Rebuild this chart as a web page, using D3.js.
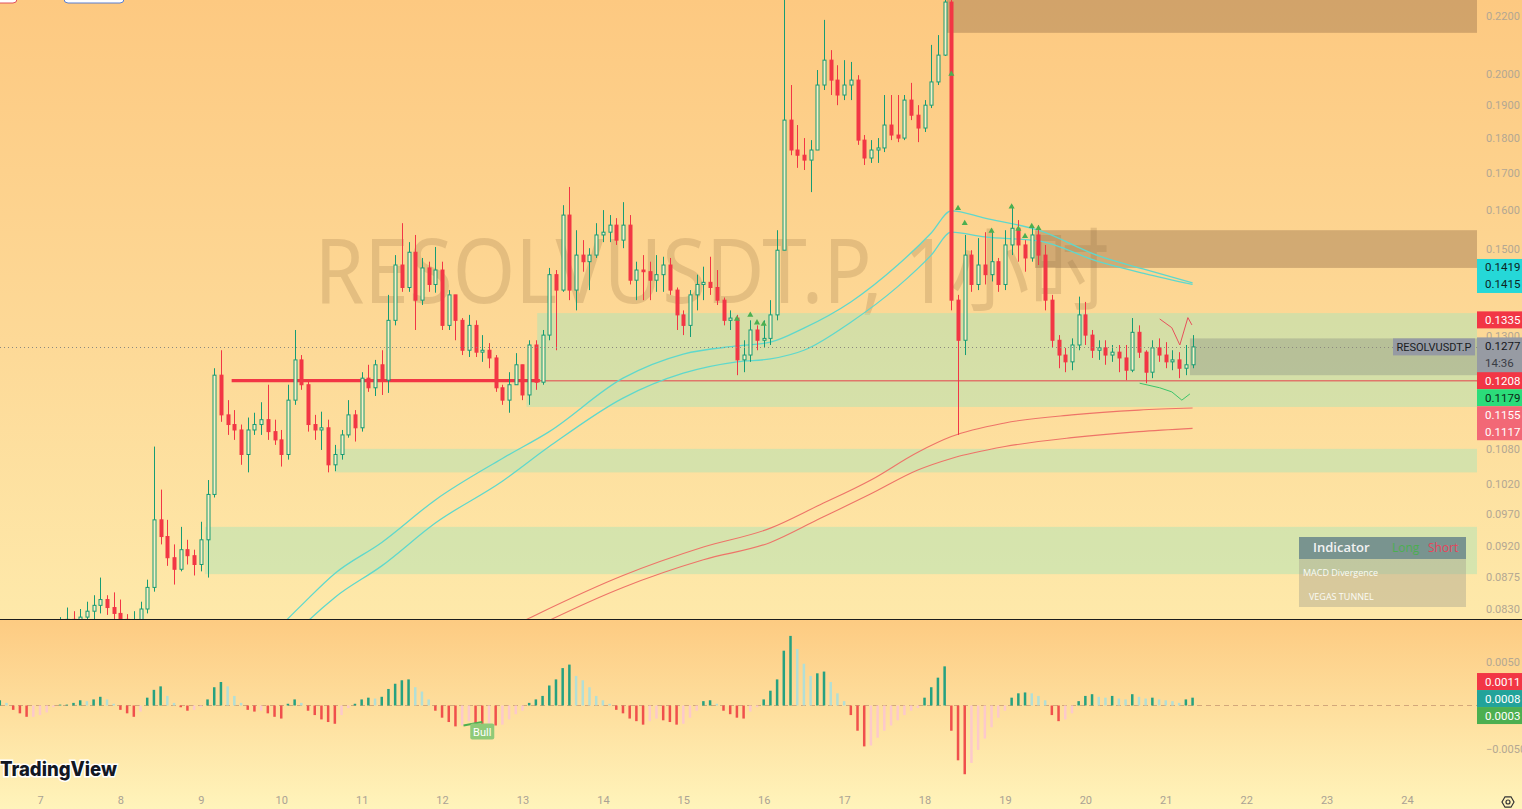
<!DOCTYPE html>
<html><head><meta charset="utf-8">
<script src="https://cdn.jsdelivr.net/npm/d3@7"></script>
<style>html,body{margin:0;padding:0;overflow:hidden;background:#fff3b8}svg{display:block}</style>
</head><body><svg id="c" width="1522" height="809"></svg>
<script>
// ---------------- DATA ----------------
const symbol = "RESOLVUSDT.P";
const watermarkText = "RESOLVUSDT.P, 1小时";
const startTime = Date.UTC(2025, 5, 6, 12);   // first bar
const barHours = 2;
const firstOpen = 0.0795;
const closes = [
0.0790,0.0795,0.0787,0.0793,0.0799,0.0790,0.0785,0.0795,0.0803,0.0808,
0.0816,0.0811,0.0819,0.0827,0.0835,0.0843,0.0832,0.0824,0.0816,0.0808,
0.0814,0.0830,0.0860,0.0961,0.0935,0.0903,0.0886,0.0915,0.0906,0.0893,
0.0930,0.1002,0.1219,0.1142,0.1124,0.1114,0.1070,0.1114,0.1124,0.1133,
0.1111,0.1096,0.1070,0.1170,0.1250,0.1200,0.1124,0.1114,0.1118,0.1052,
0.1070,0.1105,0.1142,0.1118,0.1213,0.1194,0.1240,0.1209,0.1334,0.1461,
0.1408,0.1492,0.1379,0.1454,0.1415,0.1449,0.1323,0.1391,0.1334,0.1270,
0.1323,0.1266,0.1270,0.1254,0.1194,0.1170,0.1200,0.1240,0.1180,0.1281,
0.1205,0.1302,0.1438,0.1402,0.1586,0.1402,0.1485,0.1469,0.1485,0.1535,
0.1542,0.1560,0.1522,0.1560,0.1425,0.1449,0.1445,0.1425,0.1438,0.1461,
0.1402,0.1346,0.1323,0.1391,0.1415,0.1420,0.1408,0.1379,0.1334,0.1339,
0.1250,0.1260,0.1313,0.1291,0.1295,0.1346,0.1497,0.1854,0.1765,0.1750,
0.1736,0.1765,0.1964,0.2046,0.1980,0.1932,0.1964,0.1980,0.1794,0.1742,
0.1765,0.1771,0.1839,0.1809,0.1800,0.1916,0.1869,0.1830,0.1900,0.1974,
0.2063,0.2251,0.1379,0.1291,0.1485,0.1415,0.1461,0.1438,0.1469,0.1415,
0.1510,0.1552,0.1510,0.1478,0.1535,0.1485,0.1379,0.1291,0.1260,0.1246,
0.1281,0.1346,0.1302,0.1270,0.1275,0.1260,0.1266,0.1254,0.1229,0.1308,
0.1266,0.1225,0.1275,0.1260,0.1246,0.1250,0.1233,0.1240,0.1277];
const highs = [
0.0800,0.0806,0.0803,0.0803,0.0810,0.0803,0.0797,0.0806,0.0814,0.0819,
0.0832,0.0827,0.0830,0.0840,0.0849,0.0874,0.0849,0.0853,0.0843,0.0823,
0.0827,0.0840,0.0871,0.1084,0.1010,0.0961,0.0923,0.0950,0.0930,0.0915,
0.0958,0.1026,0.1233,0.1270,0.1170,0.1151,0.1124,0.1137,0.1146,0.1166,
0.1200,0.1133,0.1114,0.1200,0.1313,0.1260,0.1209,0.1142,0.1148,0.1133,
0.1087,0.1114,0.1170,0.1151,0.1225,0.1240,0.1250,0.1270,0.1391,0.1485,
0.1565,0.1517,0.1535,0.1478,0.1469,0.1505,0.1469,0.1402,0.1379,0.1339,
0.1346,0.1334,0.1302,0.1285,0.1260,0.1200,0.1225,0.1264,0.1240,0.1291,
0.1291,0.1313,0.1454,0.1449,0.1612,0.1661,0.1547,0.1522,0.1502,0.1565,
0.1599,0.1586,0.1578,0.1620,0.1586,0.1469,0.1485,0.1469,0.1485,0.1481,
0.1478,0.1408,0.1356,0.1402,0.1438,0.1457,0.1481,0.1449,0.1385,0.1356,
0.1346,0.1291,0.1334,0.1323,0.1334,0.1379,0.1547,0.2290,0.1964,0.1839,
0.1800,0.1794,0.2013,0.2186,0.2080,0.2029,0.2046,0.2040,0.1996,0.1809,
0.1794,0.1800,0.1932,0.1932,0.1932,0.1932,0.1971,0.1900,0.1916,0.2098,
0.2132,0.2316,0.2296,0.1391,0.1535,0.1497,0.1527,0.1542,0.1542,0.1478,
0.1547,0.1612,0.1573,0.1522,0.1552,0.1560,0.1510,0.1391,0.1302,0.1275,
0.1295,0.1387,0.1375,0.1313,0.1291,0.1291,0.1281,0.1281,0.1281,0.1339,
0.1323,0.1270,0.1291,0.1295,0.1287,0.1270,0.1266,0.1281,0.1302];
const lows = [
0.0780,0.0784,0.0777,0.0782,0.0787,0.0782,0.0775,0.0780,0.0790,0.0795,
0.0803,0.0800,0.0806,0.0811,0.0816,0.0824,0.0822,0.0814,0.0806,0.0798,
0.0800,0.0808,0.0824,0.0854,0.0923,0.0891,0.0864,0.0883,0.0893,0.0877,
0.0883,0.0874,0.0997,0.1129,0.1105,0.1096,0.1052,0.1039,0.1105,0.1105,
0.1096,0.1087,0.1049,0.1061,0.1161,0.1190,0.1111,0.1096,0.1078,0.1039,
0.1041,0.1061,0.1100,0.1093,0.1111,0.1186,0.1178,0.1180,0.1184,0.1323,
0.1398,0.1398,0.1313,0.1368,0.1398,0.1396,0.1313,0.1313,0.1291,0.1260,
0.1256,0.1256,0.1246,0.1233,0.1186,0.1161,0.1146,0.1209,0.1170,0.1161,
0.1190,0.1200,0.1291,0.1270,0.1398,0.1379,0.1356,0.1445,0.1402,0.1478,
0.1517,0.1517,0.1510,0.1502,0.1415,0.1379,0.1379,0.1379,0.1398,0.1398,
0.1391,0.1313,0.1302,0.1298,0.1356,0.1379,0.1391,0.1368,0.1323,0.1313,
0.1219,0.1225,0.1246,0.1270,0.1275,0.1281,0.1334,0.1497,0.1750,0.1714,
0.1708,0.1647,0.1765,0.1948,0.1932,0.1900,0.1916,0.1916,0.1780,0.1722,
0.1728,0.1728,0.1759,0.1794,0.1788,0.1794,0.1854,0.1788,0.1818,0.1891,
0.1964,0.2060,0.1356,0.1105,0.1260,0.1398,0.1402,0.1415,0.1422,0.1398,
0.1402,0.1485,0.1469,0.1445,0.1469,0.1461,0.1356,0.1275,0.1233,0.1225,
0.1229,0.1270,0.1281,0.1254,0.1250,0.1240,0.1246,0.1225,0.1209,0.1225,
0.1254,0.1203,0.1213,0.1246,0.1233,0.1229,0.1213,0.1219,0.1233];
const macdHist = [
0.0006,0.0003,-0.0005,-0.0009,-0.0013,-0.0013,-0.0011,-0.0008,-0.0002,0.0001,
0.0001,0.0003,0.0006,0.0005,0.0007,0.0010,0.0007,0.0002,-0.0005,-0.0009,
-0.0013,-0.0007,0.0009,0.0018,0.0022,0.0011,0.0003,-0.0002,-0.0006,-0.0005,
-0.0002,0.0007,0.0021,0.0027,0.0022,0.0011,0.0003,-0.0005,-0.0007,-0.0006,
-0.0009,-0.0013,-0.0015,0.0002,0.0007,0.0003,-0.0006,-0.0011,-0.0016,-0.0019,
-0.0021,-0.0011,-0.0003,0.0002,0.0007,0.0009,0.0008,0.0010,0.0019,0.0025,
0.0029,0.0030,0.0021,0.0016,0.0007,-0.0006,-0.0014,-0.0019,-0.0024,-0.0023,
-0.0018,-0.0022,-0.0023,-0.0021,-0.0023,-0.0022,-0.0016,-0.0010,-0.0006,0.0003,
0.0007,0.0011,0.0023,0.0030,0.0043,0.0047,0.0034,0.0029,0.0021,0.0011,
0.0006,0.0002,-0.0005,-0.0009,-0.0015,-0.0018,-0.0022,-0.0018,-0.0015,-0.0017,
-0.0019,-0.0022,-0.0021,-0.0014,-0.0006,0.0005,0.0006,0.0002,-0.0006,-0.0010,
-0.0014,-0.0015,-0.0007,-0.0002,0.0007,0.0017,0.0030,0.0063,0.0080,0.0065,
0.0048,0.0034,0.0037,0.0039,0.0027,0.0014,0.0005,-0.0011,-0.0029,-0.0047,
-0.0046,-0.0037,-0.0029,-0.0023,-0.0017,-0.0011,-0.0006,-0.0003,0.0009,0.0021,
0.0032,0.0045,-0.0029,-0.0063,-0.0079,-0.0066,-0.0051,-0.0038,-0.0025,-0.0014,
-0.0006,0.0009,0.0014,0.0015,0.0014,0.0011,0.0006,-0.0011,-0.0018,-0.0016,
-0.0009,0.0005,0.0011,0.0013,0.0010,0.0009,0.0011,0.0008,0.0007,0.0013,
0.0010,0.0008,0.0009,0.0007,0.0006,0.0005,0.0003,0.0007,0.0009];

// Vegas tunnel readings (bar index, price)
const cyanIdx   = [40,45,50,57,65,75,82,93,102,110,115,120,127,134,139,142,147,155,164,171,178];
const cyanUpper = [0.0790,0.0835,0.0880,0.0926,0.0993,0.1063,0.1111,0.1213,0.1262,0.1279,0.1287,0.1317,0.1375,0.1461,0.1540,0.1597,0.1578,0.1547,0.1483,0.1450,0.1419];
const cyanLower = [0.0757,0.0805,0.0846,0.0891,0.0956,0.1024,0.1084,0.1174,0.1223,0.1246,0.1252,0.1270,0.1330,0.1410,0.1485,0.1542,0.1530,0.1520,0.1469,0.1440,0.1415];
const redIdx    = [75,80,93,105,115,122,130,137,142,150,160,170,178];
const redUpper  = [0.0800,0.0822,0.0877,0.0919,0.0948,0.0983,0.1026,0.1074,0.1102,0.1127,0.1142,0.1151,0.1155];
const redLower  = [0.0784,0.0806,0.0860,0.0900,0.0926,0.0961,0.1003,0.1043,0.1063,0.1084,0.1100,0.1111,0.1117];

// signal markers (bar index, price)
const markerIdx   = [110,112,113,114,142,143,144,148,151,152,153,154,155];
const markerPrice = [0.1337,0.1346,0.1329,0.1326,0.2000,0.1604,0.1565,0.1545,0.1608,0.1550,0.1532,0.1557,0.1552];

// projection lines at the end
const projRedIdx = [173.1,174.9,176.1,177.3,177.9];
const projRedPrice = [0.1337,0.1318,0.1281,0.1340,0.1324];
const projGreenIdx = [170.1,173.1,174.9,176.4,177.6];
const projGreenPrice = [0.1203,0.1194,0.1186,0.1170,0.1182];

// zones: start bar index, top price, bottom price
const brownZoneStart = [141.3, 154.5];
const brownZoneTop   = [0.2400, 0.1547];
const brownZoneBot   = [0.2140, 0.1454];
const greenZoneStart = [80.2, 78.6, 50, 30.6];
const greenZoneTop   = [0.1350, 0.1208, 0.1080, 0.0950];
const greenZoneBot   = [0.1208, 0.1157, 0.1039, 0.0879];
const grayZoneStart = 177.6, grayZoneTop = 0.1295, grayZoneBot = 0.1219;

const levelPrice = 0.1208, levelStart = 34.6, levelThickEnd = 80.6;

const dayTicks = [7,8,9,10,11,12,13,14,15,16,17,18,19,20,21,22,23,24];
const priceTicks = [0.2200,0.2000,0.1900,0.1800,0.1700,0.1600,0.1500,0.1300,0.1080,0.1020,0.0970,0.0920,0.0875,0.0830];
const macdTicks = [0.0050,-0.0050];

const vegasTags = [0.1419, 0.1415];
const zoneTag = 0.1335;
const lastPrice = 0.1277, countdown = "14:36";
const levelTag = 0.1208;
const greenTag = 0.1179;
const redVegasTags = [0.1155, 0.1117];
const macdTags = [0.0011, 0.0008, 0.0003];

const bullAnn = {i: 72, v: -0.0030};
const bullLineIdx = [69.2, 72], bullLineVal = [-0.0023, -0.0019];

const tableTitle = ["Indicator", "Long", "Short"];
const tableRows = ["MACD Divergence", "VEGAS TUNNEL"];

// ---------------- CHART ----------------
const W = 1522, H = 809, plotR = 1477, mainBottom = 619;
const svg = d3.select('#c');
const defs = svg.append('defs');
function grad(id, stops){
  const g = defs.append('linearGradient').attr('id', id).attr('x1',0).attr('y1',0).attr('x2',0).attr('y2',1);
  stops.forEach(s => g.append('stop').attr('offset', s[0]).attr('stop-color', s[1]));
}
grad('bgMain', [['0%','#fdc981'],['55%','#fdd997'],['100%','#fee9aa']]);
grad('bgMacd', [['0%','#fdcb82'],['100%','#fff4bb']]);
defs.append('clipPath').attr('id','clipMain').append('rect').attr('x',0).attr('y',0).attr('width',plotR).attr('height',mainBottom);
defs.append('clipPath').attr('id','clipMacd').append('rect').attr('x',0).attr('y',620).attr('width',plotR).attr('height',H-620);

svg.append('rect').attr('width',W).attr('height',620).attr('fill','url(#bgMain)');
svg.append('rect').attr('y',620).attr('width',W).attr('height',H-620).attr('fill','url(#bgMacd)');

const HOUR = 3600e3;
const t = i => new Date(startTime + i * barHours * HOUR);
const x = d3.scaleUtc().domain([new Date(Date.UTC(2025,5,7)), new Date(Date.UTC(2025,5,24))]).range([40, 1407]);
const xi = i => x(t(i));
const y = d3.scaleLog().domain([0.083, 0.22]).range([609, 16]);
const yM = d3.scaleLinear().domain([-0.005, 0.005]).range([749, 662]);

// watermark
svg.append('text').attr('x', 712).attr('y', 303).attr('text-anchor','middle')
  .attr('font-family','"Noto Sans","Noto Sans CJK SC",sans-serif').attr('font-size', 90)
  .attr('textLength', 795).attr('lengthAdjust','spacingAndGlyphs')
  .attr('fill','rgba(140,105,60,0.22)').text(watermarkText);

const main = svg.append('g').attr('clip-path','url(#clipMain)');

// zones
function zone(g, i0, top, bot, fill){
  g.append('rect').attr('x', xi(i0)).attr('width', plotR - xi(i0))
    .attr('y', y(top)).attr('height', y(bot) - y(top)).attr('fill', fill);
}
brownZoneStart.forEach((s,k) => zone(main, s, brownZoneTop[k], brownZoneBot[k], 'rgba(150,112,75,0.42)'));
greenZoneStart.forEach((s,k) => zone(main, s, greenZoneTop[k], greenZoneBot[k], 'rgba(180,228,180,0.55)'));
zone(main, grayZoneStart, grayZoneTop, grayZoneBot, 'rgba(120,128,120,0.32)');

// level line
main.append('line').attr('x1', xi(levelThickEnd)).attr('x2', plotR).attr('y1', y(levelPrice)).attr('y2', y(levelPrice))
  .attr('stroke','#e0766a').attr('stroke-width',1.6);
main.append('line').attr('x1', xi(levelStart)).attr('x2', xi(levelThickEnd)).attr('y1', y(levelPrice)).attr('y2', y(levelPrice))
  .attr('stroke','#f23645').attr('stroke-width',3.2);

// vegas tunnels
const lineGen = d3.line().x(d => xi(d[0])).y(d => y(d[1])).curve(d3.curveMonotoneX);
function vline(idx, vals, color, w){
  main.append('path').attr('d', lineGen(idx.map((v,k)=>[v, vals[k]]))).attr('fill','none')
    .attr('stroke', color).attr('stroke-width', w);
}
vline(redIdx, redUpper, '#ee7468', 1.1);
vline(redIdx, redLower, '#ee7468', 1.1);
vline(cyanIdx, cyanUpper, '#5fd8cc', 1.3);
vline(cyanIdx, cyanLower, '#5fd8cc', 1.3);

// current price dotted line
svg.append('line').attr('x1',0).attr('x2',plotR).attr('y1', Math.round(y(lastPrice))+0.5).attr('y2', Math.round(y(lastPrice))+0.5)
  .attr('stroke','#8c8a80').attr('stroke-width',1).attr('stroke-dasharray','1,3');

// candles
const bars = closes.map((c,i) => {
  const o = i ? closes[i-1] : firstOpen;
  return {i, o, c, h: Math.max(highs[i], o, c), l: Math.min(lows[i], o, c)};
});
const UP = '#169c74', DOWN = '#f23645';
const cg = main.append('g');
cg.selectAll('line').data(bars).join('line')
  .attr('x1', d => Math.round(xi(d.i))+0.5).attr('x2', d => Math.round(xi(d.i))+0.5)
  .attr('y1', d => y(d.h)).attr('y2', d => y(d.l))
  .attr('stroke', d => d.c >= d.o ? UP : DOWN).attr('stroke-width', 1);
cg.selectAll('rect').data(bars).join('rect')
  .attr('x', d => Math.round(xi(d.i)) - 1)
  .attr('width', 3)
  .attr('y', d => y(Math.max(d.o, d.c)))
  .attr('height', d => Math.max(1, Math.abs(y(d.o) - y(d.c))))
  .attr('fill', d => d.c >= d.o ? '#fbefc4' : DOWN)
  .attr('stroke', d => d.c >= d.o ? UP : DOWN).attr('stroke-width', 1);

// markers
main.selectAll('path.mk').data(markerIdx).join('path').attr('class','mk')
  .attr('transform', (d,k) => `translate(${xi(d)},${y(markerPrice[k])})`)
  .attr('d', d3.symbol(d3.symbolTriangle, 16)).attr('fill','#4caf50');

// projections
const pl = d3.line().x(d => xi(d[0])).y(d => y(d[1]));
main.append('path').attr('d', pl(projRedIdx.map((v,k)=>[v, projRedPrice[k]]))).attr('fill','none').attr('stroke','#e8505b').attr('stroke-width',1);
main.append('path').attr('d', pl(projGreenIdx.map((v,k)=>[v, projGreenPrice[k]]))).attr('fill','none').attr('stroke','#3cc46a').attr('stroke-width',1);

// ---- MACD pane ----
const mg = svg.append('g').attr('clip-path','url(#clipMacd)');
mg.append('line').attr('x1',0).attr('x2',plotR).attr('y1', yM(0)).attr('y2', yM(0))
  .attr('stroke','#d3a77a').attr('stroke-width',1).attr('stroke-dasharray','5,4');
mg.selectAll('rect.h').data(macdHist).join('rect').attr('class','h')
  .attr('x', (d,i) => xi(i) - 1.25).attr('width', 2.5)
  .attr('y', d => yM(Math.max(d,0))).attr('height', d => Math.abs(yM(d) - yM(0)))
  .attr('fill', (d,i) => {
    const p = i ? macdHist[i-1] : 0;
    if (d >= 0) return d >= p ? '#26a180' : '#b2dfd6';
    return d < p ? '#f0504c' : '#fcc9cc';
  });
// bull annotation
mg.append('path').attr('d', d3.line().x(d=>xi(d[0])).y(d=>yM(d[1]))(bullLineIdx.map((v,k)=>[v,bullLineVal[k]])))
  .attr('stroke','#4caf50').attr('stroke-width',2).attr('fill','none');
const bx = xi(bullAnn.i), by = yM(bullAnn.v);
mg.append('rect').attr('x', bx-12).attr('y', by-8).attr('width',24).attr('height',16).attr('rx',2).attr('fill','#8fca78');
mg.append('text').attr('x', bx).attr('y', by+4).attr('text-anchor','middle').attr('font-family','Roboto,sans-serif')
  .attr('font-size',11).attr('fill','#fff').text('Bull');

// pane separator
svg.append('line').attr('x1',0).attr('x2',W).attr('y1',619.5).attr('y2',619.5).attr('stroke','#1c1c1c').attr('stroke-width',1);

// ---- axes ----
const axisFont = 'Roboto, "Liberation Sans", sans-serif';
const ay = svg.append('g').attr('transform',`translate(${plotR},0)`)
  .call(d3.axisRight(y).tickValues(priceTicks).tickFormat(d3.format('.4f')).tickSize(0).tickPadding(9));
ay.select('.domain').remove();
ay.selectAll('text').attr('font-family',axisFont).attr('font-size',11).attr('fill','#b3a793');

const am = svg.append('g').attr('transform',`translate(${plotR},0)`)
  .call(d3.axisRight(yM).tickValues(macdTicks).tickFormat(d3.format('.4f')).tickSize(0).tickPadding(9));
am.select('.domain').remove();
am.selectAll('text').attr('font-family',axisFont).attr('font-size',11).attr('fill','#b3a793');

const ax = svg.append('g').attr('transform','translate(0,790)')
  .call(d3.axisBottom(x).tickValues(dayTicks.map(d => new Date(Date.UTC(2025,5,d)))).tickFormat(d3.utcFormat('%-d')).tickSize(0).tickPadding(6));
ax.select('.domain').remove();
ax.selectAll('text').attr('font-family',axisFont).attr('font-size',11).attr('fill','#aaa294');

// ---- price tags ----
function tag(yc, h, bg, lines, fg){
  const g = svg.append('g');
  g.append('rect').attr('x', plotR).attr('y', yc - h/2).attr('width', W - plotR).attr('height', h).attr('fill', bg);
  lines.forEach((l, k) => g.append('text').attr('x', plotR + 8).attr('y', yc - h/2 + 12.5 + k*17)
    .attr('font-family', axisFont).attr('font-size', 11.5).attr('fill', l.fg || fg).text(l.t));
}
const fmt4 = d3.format('.4f');
tag(y(vegasTags[1]) - 8.5, 34, '#25d8d8', [{t: fmt4(vegasTags[0])}, {t: fmt4(vegasTags[1])}], '#0d2424');
tag(y(zoneTag), 17, '#f23645', [{t: fmt4(zoneTag)}], '#fff');
tag(y(lastPrice) + 8.5, 36, '#979ba3', [{t: fmt4(lastPrice)}, {t: countdown, fg:'#3a3d45'}], '#15171c');
tag(y(levelTag), 17, '#f23645', [{t: fmt4(levelTag)}], '#fff');
tag(y(levelTag) + 17, 17, '#2bdc7a', [{t: fmt4(greenTag)}], '#0b2a16');
tag(y(levelTag) + 42.5, 34, '#f26876', [{t: fmt4(redVegasTags[0])}, {t: fmt4(redVegasTags[1])}], '#fff');
const sy = y(lastPrice);
svg.append('rect').attr('x', 1393).attr('y', sy - 8.5).attr('width', 82).attr('height', 17).attr('fill','#959aa3');
svg.append('text').attr('x', 1434).attr('y', sy + 4).attr('text-anchor','middle').attr('font-family',axisFont)
  .attr('font-size',11).attr('fill','#1a1c22').text(symbol);
const mc = yM(macdTags[1]);
const macdBg = ['#f23645', '#22a39a', '#4caf50'];
macdTags.forEach((v,k) => tag(mc + (k-1)*17, 17, macdBg[k], [{t: fmt4(v)}], '#fff'));

// ---- indicator table ----
const tb = svg.append('g');
tb.append('rect').attr('x',1299).attr('y',537).attr('width',167).attr('height',22).attr('fill','rgba(95,125,135,0.78)');
tb.append('rect').attr('x',1299).attr('y',559).attr('width',167).attr('height',48).attr('fill','rgba(165,160,140,0.42)');
tb.append('text').attr('x',1313).attr('y',552).attr('font-family','"Open Sans",Roboto,sans-serif').attr('font-size',13).attr('font-weight',600).attr('fill','#f2f2f2').text(tableTitle[0]);
tb.append('text').attr('x',1392).attr('y',552).attr('font-family','"Open Sans",Roboto,sans-serif').attr('font-size',12).attr('fill','#4caf50').text(tableTitle[1]);
tb.append('text').attr('x',1428).attr('y',552).attr('font-family','"Open Sans",Roboto,sans-serif').attr('font-size',12).attr('fill','#e8455c').text(tableTitle[2]);
tableRows.forEach((r,k) => tb.append('text').attr('x', k ? 1309 : 1303).attr('y', 576 + k*24)
  .attr('font-family','"Open Sans",Roboto,sans-serif').attr('font-size',9).attr('fill','#fbfbf5').text(r));

// ---- decorations ----
svg.append('rect').attr('x',-12).attr('y',-10).attr('width',29).attr('height',13).attr('rx',4).attr('fill','#fff').attr('stroke','#e2525c').attr('stroke-width',1);
svg.append('rect').attr('x',64).attr('y',-10).attr('width',60).attr('height',13).attr('rx',4).attr('fill','#fff').attr('stroke','#5a7fd0').attr('stroke-width',1);
svg.append('text').attr('x',0).attr('y',776).attr('font-family','Inter,"Open Sans",sans-serif').attr('font-size',20).attr('font-weight',800)
  .attr('textLength',117).attr('lengthAdjust','spacingAndGlyphs')
  .attr('fill','#131722').attr('stroke','#fff').attr('stroke-width',3).attr('paint-order','stroke').text('TradingView');
const hex = d3.range(6).map(k => [1508 + 6*Math.cos(Math.PI/3*k), 802 + 6*Math.sin(Math.PI/3*k)]);
svg.append('path').attr('d', 'M' + hex.join('L') + 'Z').attr('fill','none').attr('stroke','#333').attr('stroke-width',1.2);
svg.append('circle').attr('cx',1508).attr('cy',802).attr('r',2).attr('fill','none').attr('stroke','#333').attr('stroke-width',1.2);
</script></body></html>
